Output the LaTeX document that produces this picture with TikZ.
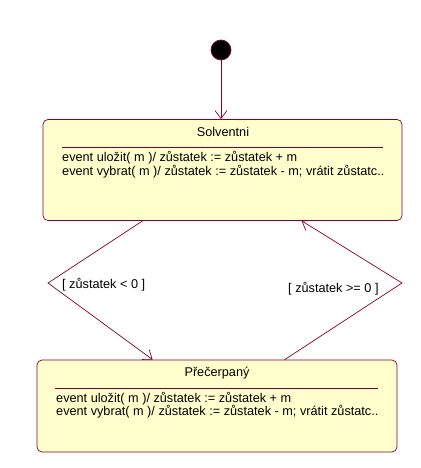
\documentclass[tikz,border=0pt]{standalone}
\usepackage{fontspec}
\setmainfont{Liberation Sans}
\usetikzlibrary{arrows.meta}
\definecolor{edge}{RGB}{128,0,48}
\definecolor{boxfill}{RGB}{255,255,206}
\tikzset{
  state/.style={draw=edge, fill=boxfill, rounded corners=5pt, line width=0.7pt, inner sep=0pt},
  txt/.style={inner sep=0pt, anchor=base west, font=\fontsize{12.7}{14}\selectfont},
  ttl/.style={inner sep=0pt, anchor=base, font=\fontsize{12.7}{14}\selectfont},
  conn/.style={draw=edge, line width=0.7pt, -{Straight Barb[length=8pt,width=12pt]}},
  sep/.style={draw=edge, line width=0.6pt}
}
\begin{document}
\begin{tikzpicture}[x=1pt,y=-1pt]
\useasboundingbox[fill=white] (0,0) rectangle (420,468);
\node[circle, fill=black, draw=edge, line width=0.7pt, minimum size=20pt, inner sep=0pt] (init) at (221,50) {};
\node[state, minimum width=359pt, minimum height=101pt] (sol) at (222.5,170) {};
\node[state, minimum width=360pt, minimum height=92pt] (pre) at (217,406) {};
\draw[conn] (init) -- (sol.north -| init);
% Solventni
\node[ttl] (soltitle) at (223,136) {Solventni};
\draw[sep] (62,147) -- (383,147);
\node[txt] (s1) at (62,161) {event uložit( m )/ zůstatek := zůstatek + m};
\node[txt] (s2) at (62,175) {event vybrat( m )/ zůstatek := zůstatek - m; vrátit zůstatc..};
% Precerpany
\node[ttl] (pretitle) at (217,376) {Přečerpaný};
\draw[sep] (55,388) -- (378,388);
\node[txt] (p1) at (56,402) {event uložit( m )/ zůstatek := zůstatek + m};
\node[txt] (p2) at (56,415) {event vybrat( m )/ zůstatek := zůstatek - m; vrátit zůstatc..};
% transitions
\coordinate (lv) at (48,283);
\coordinate (rv) at (402,283);
\draw[conn] ([xshift=100pt]sol.south west) -- (lv) -- ([xshift=116pt]pre.north west);
\draw[conn] ([xshift=248pt]pre.north west) -- (rv) -- ([xshift=259pt]sol.south west);
\node[txt] (g1) at (62,288) {[ zůstatek < 0 ]};
\node[txt] (g2) at (288,292) {[ zůstatek >= 0 ]};
\end{tikzpicture}
\end{document}
